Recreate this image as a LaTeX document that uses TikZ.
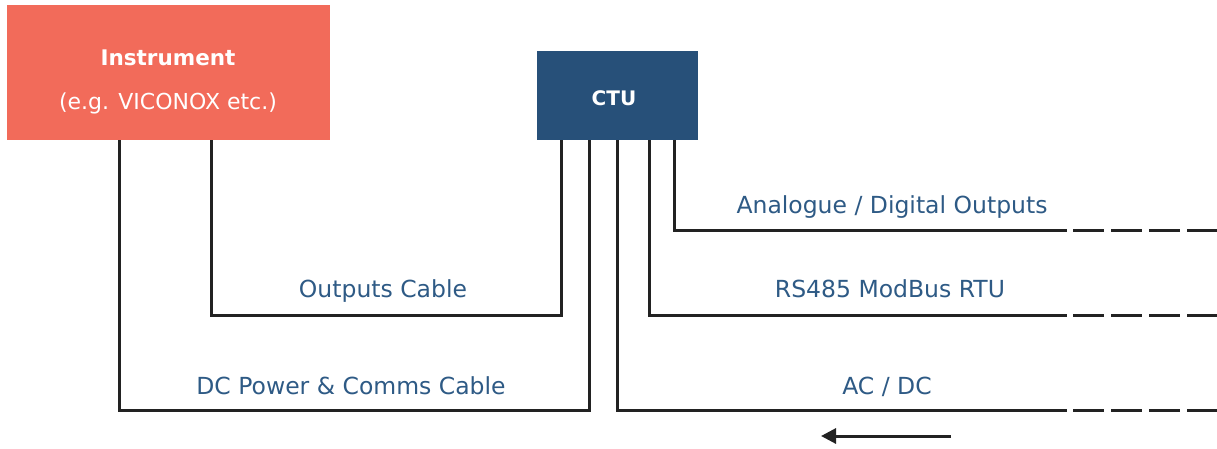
\documentclass[tikz,border=0pt]{standalone}
\usepackage{fontspec}
\setmainfont{DejaVu Sans}
\usetikzlibrary{arrows.meta}
\definecolor{coral}{HTML}{F26B5A}
\definecolor{navy}{HTML}{275079}
\definecolor{lbl}{HTML}{2E5A85}
\definecolor{wire}{HTML}{222222}
\begin{document}
\begin{tikzpicture}[x=1pt,y=-1pt,
  boxtxt/.style={text=white, font=\fontsize{22}{26}\selectfont, anchor=base, inner sep=0},
  lbltxt/.style={text=lbl, font=\fontsize{23.5}{27}\selectfont, anchor=base, inner sep=0},
  wireline/.style={draw=wire, line width=3pt},
  tail/.style={draw=wire, line width=3pt, dash pattern=on 31pt off 7pt}]
\useasboundingbox (0,0) rectangle (1217,448);
% boxes
\node[fill=coral, minimum width=323pt, minimum height=135pt, anchor=north west, inner sep=0] (inst) at (7,5) {};
\node[fill=navy, minimum width=161pt, minimum height=89pt, anchor=north west, inner sep=0] (ctu) at (537,51) {};
\node[boxtxt, font=\fontsize{21.5}{26}\selectfont\bfseries] (instname) at (168,65) {Instrument};
\node[boxtxt] (instex) at (168,109) {(e.g. VICONOX etc.)};
\node[boxtxt, font=\fontsize{20}{24}\selectfont\bfseries] (ctuname) at (614,105) {CTU};
% attachment points
\coordinate (i1) at (119,140);
\coordinate (i2) at (211,140);
\coordinate (c1) at (561,140);
\coordinate (c2) at (589,140);
\coordinate (c3) at (617,140);
\coordinate (c4) at (649,140);
\coordinate (c5) at (674,140);
\coordinate (e1) at (1067,230);
\coordinate (e2) at (1067,315);
\coordinate (e3) at (1067,410);
\coordinate (d1) at (1073,230);
\coordinate (d2) at (1073,315);
\coordinate (d3) at (1073,410);
\coordinate (f1) at (1217,230);
\coordinate (f2) at (1217,315);
\coordinate (f3) at (1217,410);
% cables instrument -> CTU
\draw[wireline] (i2) |- (561,315) -- (c1);
\draw[wireline] (i1) |- (589,410) -- (c2);
% CTU outputs
\draw[wireline] (c5) |- (e1);
\draw[wireline] (c4) |- (e2);
\draw[wireline] (c3) |- (e3);
\draw[tail] (d1) -- (f1);
\draw[tail] (d2) -- (f2);
\draw[tail] (d3) -- (f3);
% labels
\node[lbltxt] (l1) at (892,213) {Analogue / Digital Outputs};
\node[lbltxt] (l2) at (890,297) {RS485 ModBus RTU};
\node[lbltxt] (l3) at (887,394) {AC / DC};
\node[lbltxt] (l4) at (383,297) {Outputs Cable};
\node[lbltxt] (l5) at (351,394) {DC Power \& Comms Cable};
% arrow
\coordinate (a1) at (951,436);
\coordinate (a2) at (821,436);
\draw[draw=wire, line width=3pt, -{Triangle[length=15pt,width=15pt]}] (a1) -- (a2);
\end{tikzpicture}
\end{document}
